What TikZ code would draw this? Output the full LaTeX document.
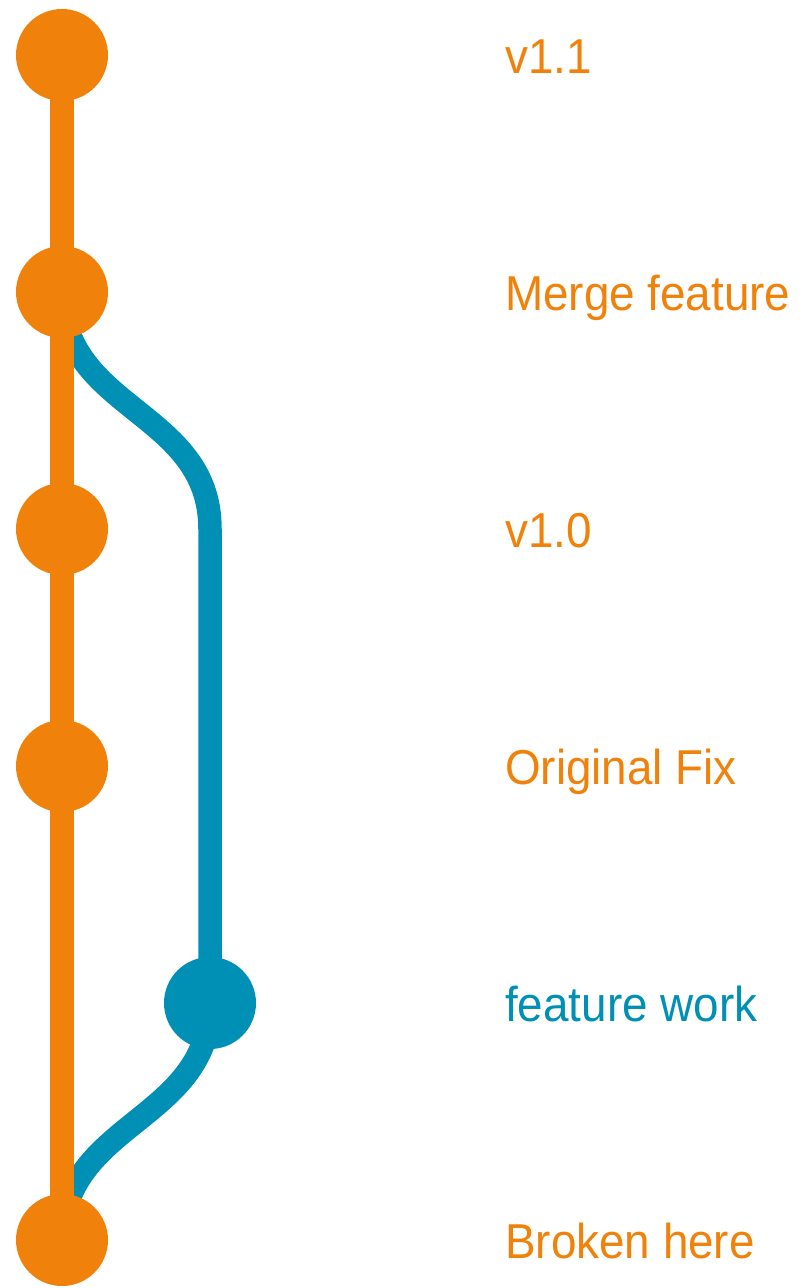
\documentclass[tikz,border=0pt]{standalone}
\usepackage{fontspec}
\setmainfont{Liberation Sans}[FakeStretch=0.935]
\usetikzlibrary{backgrounds,calc}
\definecolor{gitorange}{HTML}{F0820C}
\definecolor{gitblue}{HTML}{008FB5}

\begin{document}
\begin{tikzpicture}[x=1pt,y=-1pt,
  commit/.style={circle, fill=#1, minimum size=92pt, inner sep=0pt, draw=none},
  lane/.style={draw=#1, line width=23.5pt},
  msg/.style={anchor=base west, inner sep=0pt, text=#1,
              font=\fontsize{49}{54}\selectfont}]
\useasboundingbox (0,0) rectangle (808,1288);

% commits, one row every 237pt
\node[commit=gitorange] (v11)    at (62,55)   {};
\node[commit=gitorange] (merge)  at (62,292)  {};
\node[commit=gitorange] (v10)    at (62,529)  {};
\node[commit=gitorange] (fix)    at (62,766)  {};
\node[commit=gitblue]   (feat)   at (210,1003) {};
\node[commit=gitorange] (broken) at (62,1240) {};
\coordinate (fturn) at (210,529);

% branch lanes behind the commits
\begin{scope}[on background layer]
  \draw[lane=gitblue] (broken.center)
      .. controls +(0,-118) and +(0,118) .. (feat.center)
      -- (fturn)
      .. controls +(0,-118.5) and +(0,118.5) .. (merge.center);
  \draw[lane=gitorange] (broken.center) -- (v11.center);
\end{scope}

% commit messages
\node[msg=gitorange] (t1) at (505,73)   {v1.1};
\node[msg=gitorange] (t2) at (505,310)  {Merge feature};
\node[msg=gitorange] (t3) at (505,547)  {v1.0};
\node[msg=gitorange] (t4) at (505,784)  {Original Fix};
\node[msg=gitblue]   (t5) at (505,1021) {feature work};
\node[msg=gitorange] (t6) at (505,1258) {Broken here};
\end{tikzpicture}
\end{document}
